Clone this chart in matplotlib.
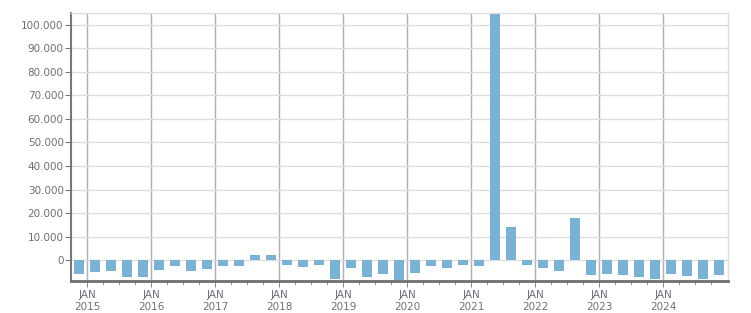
import matplotlib.pyplot as plt
from matplotlib.ticker import FuncFormatter

# quarterly values, Q4 2014 .. Q4 2024
values = [
    -6000, -5000, -4500, -7100, -7100,
    -4100, -2400, -4500, -3700,
    -2400, -2400, 2100, 2100,
    -2000, -2800, -2000, -8100,
    -3300, -7200, -5800, -8500,
    -5400, -2400, -3300, -2000,
    -2400, 104800, 14000, -2100,
    -3300, -4700, 17900, -6400,
    -6000, -6400, -7200, -8100,
    -6000, -6800, -8100, -6400,
]
years = list(range(2015, 2025))
tick_labels = [f"JAN\n{y}" for y in years]


def main():
    fig = plt.figure(figsize=(7.51, 3.13), dpi=100)
    ax = fig.add_axes([0.095, 0.103, 0.874, 0.855])

    x = list(range(len(values)))
    ax.bar(x, values, width=0.62, color='#78b2d5', zorder=3)

    # JAN of each year sits between Q4 and Q1 bars
    jan_pos = [0.5 + 4 * i for i in range(len(years))]
    ax.set_xticks(jan_pos)
    ax.set_xticklabels(tick_labels)
    ax.set_xticks([p + k for p in jan_pos for k in (1, 2, 3) if p + k < len(values) - 0.5], minor=True)
    ax.set_xlim(-0.5, len(values) - 0.45)

    ax.set_ylim(-8800, 105000)
    ax.set_yticks(range(0, 100001, 10000))
    ax.yaxis.set_major_formatter(FuncFormatter(lambda v, p: f"{int(v):,}".replace(",", ".")))

    ax.grid(axis='y', color='#dddddd', linewidth=1, zorder=0)
    ax.grid(axis='x', which='major', color='#b0b0b0', linewidth=1, zorder=1)

    for s in ('top', 'right'):
        ax.spines[s].set_color('#dddddd')
        ax.spines[s].set_linewidth(1)
    ax.spines['left'].set_color('#777777')
    ax.spines['left'].set_linewidth(1.5)
    ax.spines['bottom'].set_color('#6e6e6e')
    ax.spines['bottom'].set_linewidth(2)

    ax.tick_params(axis='y', length=4.5, color='#777777', labelsize=7.5, labelcolor='#6e6e78', pad=1)
    ax.tick_params(axis='x', which='major', length=4, color='#888888', labelsize=7.5, labelcolor='#6e6e78', pad=3)
    ax.tick_params(axis='x', which='minor', length=3, color='#888888')

    fig.savefig('out.png', dpi=100)


if __name__ == "__main__":
    main()
